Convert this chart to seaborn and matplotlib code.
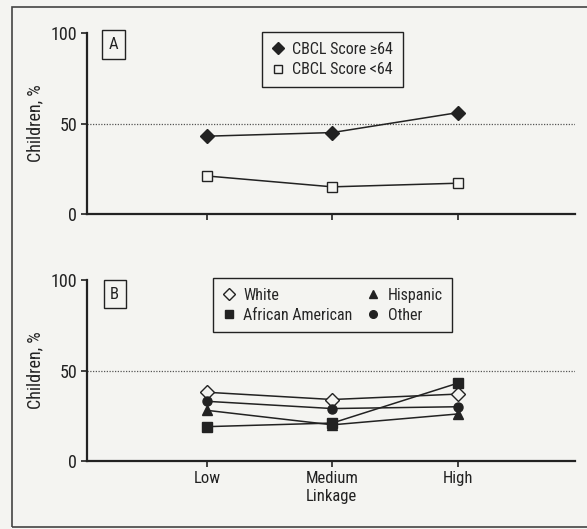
import numpy as np
import pandas as pd
import matplotlib
matplotlib.use("Agg")
import matplotlib.pyplot as plt
from matplotlib.lines import Line2D
from matplotlib.patches import Rectangle
import seaborn as sns

# Data
linkage = ["Low", "Medium", "High"]
cbcl_high = [43, 45, 56]   # CBCL Score >=64
cbcl_low = [21, 15, 17]    # CBCL Score <64
white = [38, 34, 37]
african_american = [19, 21, 43]
hispanic = [28, 20, 26]
other = [33, 29, 30]

sns.set_style("ticks")
plt.rcParams['font.family'] = ['Roboto Condensed', 'DejaVu Sans']
bg = "#f4f4f1"
ink = "#222222"
fs = 11.5

fig = plt.figure(figsize=(5.87, 5.29), dpi=100, facecolor=bg)
axA = fig.add_axes([0.148, 0.5955, 0.832, 0.342])
axB = fig.add_axes([0.148, 0.1285, 0.832, 0.342])

xpos = np.arange(1, len(linkage) + 1)

panelA = [
    ("CBCL Score \u226564", cbcl_high, "D", ink, 7.5),
    ("CBCL Score <64", cbcl_low, "s", bg, 7),
]
panelB = [
    ("White", white, "D", bg, 7.5),
    ("African American", african_american, "s", ink, 6.5),
    ("Hispanic", hispanic, "^", ink, 7),
    ("Other", other, "o", ink, 6.5),
]

def draw(ax, series):
    handles = []
    for name, vals, mk, fc, ms in series:
        sns.lineplot(x=xpos, y=vals, ax=ax, color=ink, lw=1.1, marker=mk,
                     markersize=ms, markerfacecolor=fc, markeredgecolor=ink,
                     markeredgewidth=1.0, zorder=3)
        handles.append(Line2D([], [], ls="none", marker=mk, markersize=ms - 1,
                              markerfacecolor=fc, markeredgecolor=ink,
                              markeredgewidth=1.0, label=name))
    ax.axhline(50, ls=(0, (1, 1.2)), lw=0.9, color="#555555", zorder=1)
    ax.set_facecolor(bg)
    ax.set_xlim(0.04, 3.94)
    ax.set_ylim(0, 100)
    ax.set_yticks([0, 50, 100])
    ax.set_xticks(xpos)
    ax.set_ylabel("Children, %", fontsize=13, color=ink)
    ax.yaxis.set_label_coords(-0.088, 0.5)
    for s in ["top", "right"]:
        ax.spines[s].set_visible(False)
    for s in ["left", "bottom"]:
        ax.spines[s].set_linewidth(1.6)
        ax.spines[s].set_color(ink)
    ax.tick_params(length=4, width=1.2, color=ink, labelcolor=ink, pad=3)
    ax.tick_params(axis="y", labelsize=13)
    ax.tick_params(axis="x", labelsize=12)
    return handles

hA = draw(axA, panelA)
axA.set_xticklabels([])
axA.set_xlabel("")
legA = axA.legend(handles=hA, loc="upper left", bbox_to_anchor=(0.358, 1.005),
                  borderaxespad=0, frameon=True, fancybox=False, fontsize=fs,
                  handlelength=0.8, handletextpad=0.5, borderpad=0.6,
                  labelspacing=0.35)

hB = draw(axB, panelB)
axB.set_xticklabels(linkage)
axB.set_xlabel("Linkage", fontsize=12, color=ink, labelpad=2)
legB = axB.legend(handles=hB, loc="upper left", bbox_to_anchor=(0.258, 1.01),
                  borderaxespad=0, ncol=2, frameon=True, fancybox=False,
                  fontsize=fs, handlelength=0.8, handletextpad=0.5,
                  borderpad=0.6, labelspacing=0.3, columnspacing=0.9)

for leg in (legA, legB):
    fr = leg.get_frame()
    fr.set_edgecolor(ink)
    fr.set_facecolor(bg)
    fr.set_linewidth(1.0)
    fr.set_alpha(1)

for ax, lab, (tx, ty) in [(axA, "A", (0.054, 0.936)), (axB, "B", (0.057, 0.923))]:
    ax.text(tx, ty, lab, transform=ax.transAxes, ha="center", va="center",
            fontsize=12, color=ink,
            bbox=dict(boxstyle="square,pad=0.4", fc=bg, ec=ink, lw=1.0))

# outer frame of the figure
fig.patches.append(Rectangle((12 / 587, 2 / 529), 1.0, 520 / 529,
                             transform=fig.transFigure, fill=False,
                             ec="#444444", lw=1.2))

fig.savefig("out.png", dpi=100, facecolor=bg)
